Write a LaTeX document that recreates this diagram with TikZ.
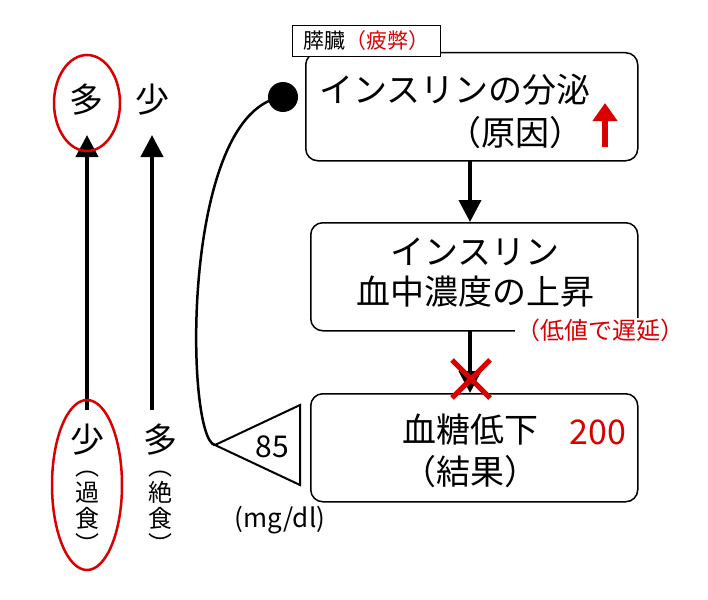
\documentclass[tikz,border=0pt]{standalone}
\usepackage{fontspec}
\setmainfont{Noto Sans CJK JP}
\usetikzlibrary{arrows.meta}
\begin{document}
\begin{tikzpicture}[x=1pt,y=-1pt,
  box/.style={draw,line width=1.5pt,rounded corners=12pt,align=center},
  big/.style={font=\fontsize{34}{40}\selectfont},
  blk/.style={line width=4pt,-{Triangle[length=22pt,width=22pt]}},
  redc/.style={draw=red!85!black,line width=2.5pt}]
\useasboundingbox (0,0) rectangle (708,599);
\node[box,minimum width=332pt,minimum height=108pt,anchor=north west] (b1) at (305,52) {};
\node[big] (t1) at (455,90) {インスリンの分泌};
\node[big] (t1b) at (515,133) {（原因）};
\node[draw,fill=white,line width=0.7pt,anchor=north west,minimum width=148pt,minimum height=31pt,inner sep=2pt,font=\fontsize{21}{24}\selectfont] (lab) at (292,25) {膵臓\textcolor{red!85!black}{（疲弊）}};
\node[box,minimum width=327pt,minimum height=108pt,anchor=north west] (b2) at (310,222) {};
\node[big,align=center] (t2) at (475,273) {インスリン\\血中濃度の上昇};
\node[box,minimum width=327pt,minimum height=108pt,anchor=north west] (b3) at (310,393) {};
\node[big] (t3) at (470,430) {血糖低下};
\node[big] (t3b) at (470,472) {（結果）};
\node[text=red!85!black,big] (n200) at (598,432) {200};
\node[text=red!85!black,font=\fontsize{24}{28}\selectfont,fill=white,inner sep=1pt] (slow) at (600,330) {（低値で遅延）};
\draw[blk] (470,160) -- (470,222);
\draw[line width=4pt] (470,330) -- (470,372);
\draw[blk] (470,372) -- (470,393);
\draw[red!85!black,line width=5pt] (452,360) -- (490,398) (490,360) -- (452,398);
\draw[red!85!black,line width=6pt,-{Triangle[length=18pt,width=24pt]}] (605,147) -- (605,103);
% triangle
\coordinate (apex) at (215,445);
\draw[line width=2pt] (apex) -- (300,405) -- (300,485) -- cycle;
\node[font=\fontsize{30}{34}\selectfont] (n85) at (272,447) {85};
\node[font=\fontsize{26}{30}\selectfont] (unit) at (280,520) {(mg/dl)};
\fill (283,97) circle (15pt) coordinate (dot);
\draw[line width=2.5pt] (dot) .. controls (180,110) and (185,440) .. (apex);
% left
\draw[blk] (87,410) -- (87,135);
\draw[blk] (152,410) -- (152,135);
\node[big] (m1) at (86,100) {多};
\node[big] (s2) at (152,100) {少};
\draw[redc] (87,103) ellipse (33pt and 48pt);
\node[big] (s1) at (87,440) {少};
\node[font=\fontsize{24}{26}\selectfont,align=center] (k1) at (87,512) {︵\\過\\食\\︶};
\draw[redc] (87,485) ellipse (35pt and 85pt);
\node[big] (m2) at (160,440) {多};
\node[font=\fontsize{24}{26}\selectfont,align=center] (k2) at (160,512) {︵\\絶\\食\\︶};
\end{tikzpicture}
\end{document}
